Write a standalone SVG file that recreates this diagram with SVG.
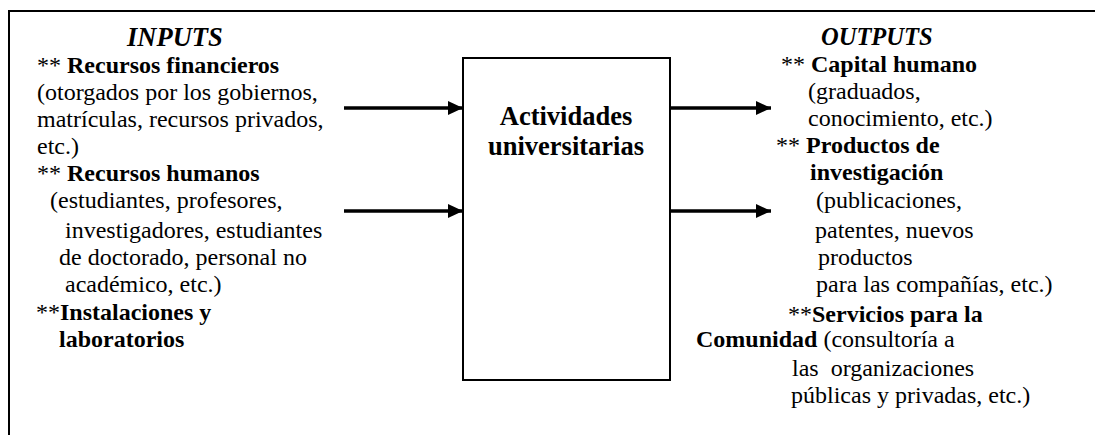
<svg xmlns="http://www.w3.org/2000/svg" width="1095" height="435" viewBox="0 0 1095 435">
<style>
text{font-family:"Liberation Serif","Times New Roman",serif;font-size:24px;fill:#000}
.b{font-weight:bold}
.h{font-weight:bold;font-style:italic;font-size:24.5px}
.hi{font-size:26.5px}
.c{font-weight:bold;font-size:26.5px;text-anchor:middle}
.frame{fill:none;stroke:#000;stroke-width:2}
.box{fill:#fff;stroke:#000;stroke-width:2}
.conn line{stroke:#000;stroke-width:3.5}
.pre{white-space:pre}
</style>
<defs>
<marker id="ah" markerUnits="userSpaceOnUse" markerWidth="16" markerHeight="16" refX="15" refY="7" orient="auto" viewBox="0 0 16 14">
<path d="M0,0 L15,7 L0,14 Z" fill="#000"/>
</marker>
</defs>
<rect class="frame" x="9" y="11" width="1100" height="440"/>
<g id="inputs">
<text class="h hi" x="127" y="46">INPUTS</text>
<text x="37" y="73">** <tspan class="b">Recursos financieros</tspan></text>
<text x="37" y="100">(otorgados por los gobiernos,</text>
<text x="37" y="127">matrículas, recursos privados,</text>
<text x="37" y="154">etc.)</text>
<text x="37" y="181">** <tspan class="b">Recursos humanos</tspan></text>
<text x="50" y="208">(estudiantes, profesores,</text>
<text x="65" y="238">investigadores, estudiantes</text>
<text x="59" y="265">de doctorado, personal no</text>
<text x="65" y="292">académico, etc.)</text>
<text x="36" y="320">**<tspan class="b">Instalaciones y</tspan></text>
<text class="b" x="59" y="347">laboratorios</text>
</g>
<g id="activities">
<rect class="box" x="463" y="58" width="207" height="322"/>
<text class="c" x="566" y="125">Actividades</text>
<text class="c" x="566" y="155">universitarias</text>
</g>
<g id="outputs">
<text class="h" x="821" y="45">OUTPUTS</text>
<text x="781" y="72">** <tspan class="b">Capital humano</tspan></text>
<text x="808" y="99">(graduados,</text>
<text x="808" y="126">conocimiento, etc.)</text>
<text x="776" y="153">** <tspan class="b">Productos de</tspan></text>
<text class="b" x="810" y="180">investigación</text>
<text x="816" y="208">(publicaciones,</text>
<text x="815" y="238">patentes, nuevos</text>
<text x="818" y="265">productos</text>
<text x="816" y="292">para las compañías, etc.)</text>
<text x="788" y="322">**<tspan class="b">Servicios para la</tspan></text>
<text x="696" y="347"><tspan class="b">Comunidad</tspan> (consultoría a</text>
<text class="pre" x="792" y="376">las  organizaciones</text>
<text x="791" y="403">públicas y privadas, etc.)</text>
</g>
<g id="connectors" class="conn">
<line x1="344" y1="108" x2="463" y2="108" marker-end="url(#ah)"/>
<line x1="344" y1="211" x2="463" y2="211" marker-end="url(#ah)"/>
<line x1="670" y1="108" x2="771" y2="108" marker-end="url(#ah)"/>
<line x1="670" y1="211" x2="771" y2="211" marker-end="url(#ah)"/>
</g>
</svg>
